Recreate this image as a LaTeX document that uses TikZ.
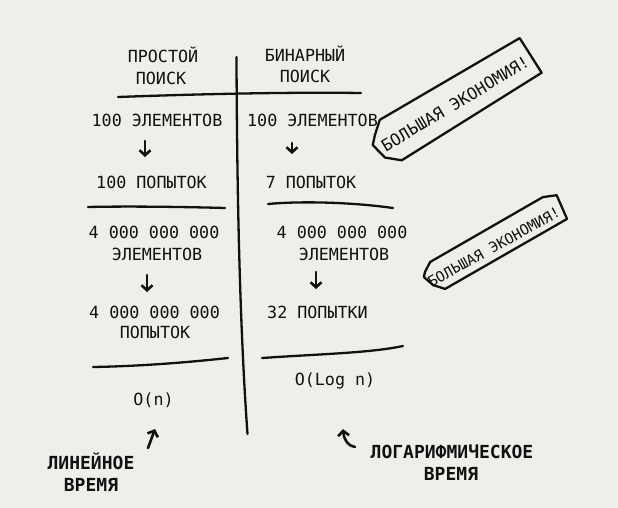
\documentclass[tikz,border=0pt]{standalone}
\usepackage{fontspec}
\setmainfont{DejaVu Sans Mono}
\usetikzlibrary{arrows.meta}
\definecolor{paper}{HTML}{EFEEEA}
\definecolor{ink}{HTML}{111111}
\begin{document}
\begin{tikzpicture}[x=1pt,y=-1pt,
  pen/.style={line width=2.3pt, line cap=round, line join=round, draw=ink},
  arr/.style={pen, line width=2.6pt, -{Straight Barb[length=5pt,width=11pt,line width=2.6pt]}},
  txt/.style={inner sep=0pt, anchor=base, font=\fontsize{16.7}{20}\selectfont, text=ink},
  lbl/.style={inner sep=0pt, anchor=base, font=\fontsize{18}{21}\selectfont\bfseries, text=ink},
  bantxt/.style={inner sep=0pt, anchor=base, text=ink},
]
\useasboundingbox[fill=paper] (0,0) rectangle (618,508);

% headers
\node[txt] (hL1) at (163,63) {ПРОСТОЙ};
\node[txt] (hL2) at (161,85) {ПОИСК};
\node[txt] (hR1) at (305,62) {БИНАРНЫЙ};
\node[txt] (hR2) at (305,83) {ПОИСК};

% rows
\node[txt] (l1) at (157,127) {100 ЭЛЕМЕНТОВ};
\node[txt] (r1) at (312.5,127) {100 ЭЛЕМЕНТОВ};
\node[txt] (l2) at (151.5,188) {100 ПОПЫТОК};
\node[txt] (r2) at (311,188) {7 ПОПЫТОК};
\node[txt] (l3a) at (154,238) {4 000 000 000};
\node[txt] (l3b) at (157,260) {ЭЛЕМЕНТОВ};
\node[txt] (r3a) at (342,238) {4 000 000 000};
\node[txt] (r3b) at (344,260) {ЭЛЕМЕНТОВ};
\node[txt] (l4a) at (154.5,318) {4 000 000 000};
\node[txt] (l4b) at (155,338) {ПОПЫТОК};
\node[txt] (r4) at (317.5,318) {32 ПОПЫТКИ};
\node[txt, anchor=center] (l5) at (153.5,400) {O(n)};
\node[txt, anchor=center] (r5) at (335,381) {O(Log n)};

% bottom labels
\node[lbl] (linA) at (91,469) {ЛИНЕЙНОЕ};
\node[lbl] (linB) at (91,491) {ВРЕМЯ};
\node[lbl] (logA) at (452,458) {ЛОГАРИФМИЧЕСКОЕ};
\node[lbl] (logB) at (451,480) {ВРЕМЯ};

% lines
\draw[pen] (236.5,57) .. controls (237,200) and (240,330) .. (247.5,434);
\draw[pen] (118,97) .. controls (200,94) and (290,92) .. (361,93);
\draw[pen] (88,207) .. controls (130,206) and (190,207) .. (225,208);
\draw[pen] (268,204) .. controls (300,201) and (350,202) .. (393,208);
\draw[pen] (93,367) .. controls (150,366) and (200,361) .. (228,358);
\draw[pen] (262,358) .. controls (320,354) and (370,353) .. (403,346);

% arrows
\coordinate (a1s) at (145,141); \coordinate (a1e) at (145,157);
\coordinate (a2s) at (292,143); \coordinate (a2e) at (292,154);
\coordinate (a3s) at (147,275); \coordinate (a3e) at (147,292);
\coordinate (a4s) at (316,272); \coordinate (a4e) at (316,289);
\coordinate (a5s) at (148,448); \coordinate (a5e) at (155,429);
\coordinate (a6s) at (355,447); \coordinate (a6e) at (343,429);
\draw[arr] (a1s) -- (a1e);
\draw[arr] (a2s) -- (a2e);
\draw[arr] (a3s) -- (a3e);
\draw[arr] (a4s) -- (a4e);
\draw[arr] (a5s) -- (a5e);
\draw[arr] (a6s) .. controls (348,446) and (344,440) .. (a6e);

% banner 1
\begin{scope}[shift={(453,98)}, rotate=31]
  \draw[pen] (-74,-19) -- (88,-17) -- (89,24) -- (-76,27) -- (-89,16) -- (-93,-1) -- (-86,-8.5) -- cycle;
  \node[bantxt, rotate=31, font=\fontsize{16.5}{20}\selectfont] (ban1) at (-1,12) {БОЛЬШАЯ ЭКОНОМИЯ!};
\end{scope}

% banner 2
\begin{scope}[shift={(494,241)}, rotate=29]
  \draw[pen] (-66,-12.6) -- (64,-14.7) -- (77,-9.7) -- (74.6,16.1) -- (-66,18.2) -- (-74.7,8.9) -- (-78.8,-2.5) -- (-75.4,-6.4) -- cycle;
  \node[bantxt, rotate=29, font=\fontsize{14.5}{18}\selectfont] (ban2) at (-3,10.5) {БОЛЬШАЯ ЭКОНОМИЯ!};
\end{scope}
\end{tikzpicture}
\end{document}
